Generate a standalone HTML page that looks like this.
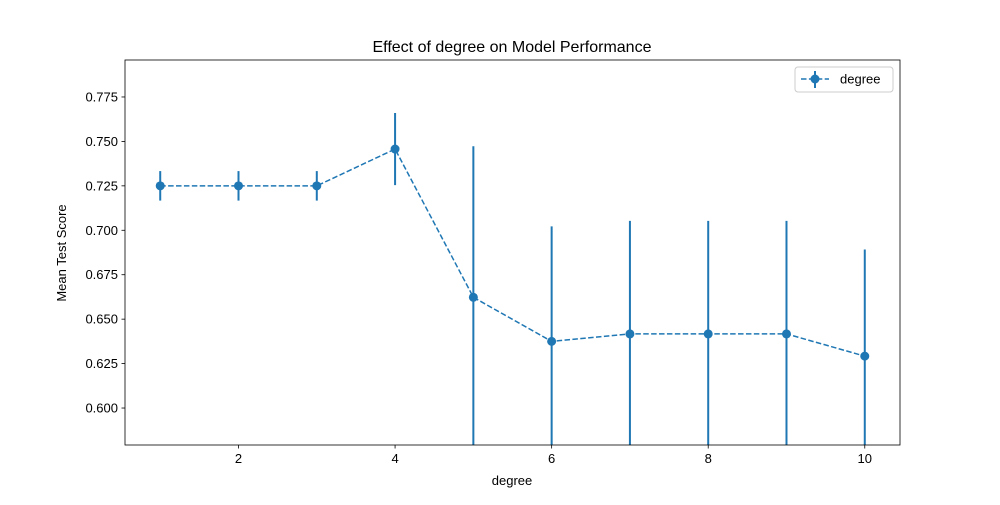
<!DOCTYPE html>
<html><head><meta charset="utf-8"><style>
body{margin:0;background:#fff}
svg{font-family:"Liberation Sans","DejaVu Sans",sans-serif}
</style></head><body>
<svg id="chart" width="1000" height="500">
<rect width="1000" height="500" fill="#fff"/>
<g id="plot"></g>
</svg>
<script>
const degrees=[1,2,3,4,5,6,7,8,9,10];
const scores=[0.725,0.725,0.725,0.7457,0.6623,0.6375,0.6417,0.6417,0.6417,0.6292];
const errors=[0.0083,0.0083,0.0083,0.0203,0.085,0.0647,0.0636,0.0636,0.0636,0.060];
const xTicks=[2,4,6,8,10];
const yTicks=[0.600,0.625,0.650,0.675,0.700,0.725,0.750,0.775];
const L=125,R=900,T=60,B=445,x0=0.55,x1=10.45,y0=0.5792,y1=0.7958;
const sx=v=>L+(v-x0)/(x1-x0)*(R-L);
const sy=v=>B-(v-y0)/(y1-y0)*(B-T);
const NS='http://www.w3.org/2000/svg';
const g=document.getElementById('plot');
function mk(t,a,p){const e=document.createElementNS(NS,t);for(const k in a)e.setAttribute(k,a[k]);(p||g).appendChild(e);return e;}
const clip=mk('clipPath',{id:'c'});mk('rect',{x:L,y:T,width:R-L,height:B-T},clip);
const data=mk('g',{'clip-path':'url(#c)'});


degrees.forEach((d,i)=>{const e=mk('line',{x1:sx(d),x2:sx(d),y1:sy(scores[i]-errors[i]),y2:sy(scores[i]+errors[i]),stroke:'#1f77b4','stroke-width':2},data);

});
const pl=mk('polyline',{points:degrees.map((d,i)=>sx(d)+','+sy(scores[i])).join(' '),fill:'none',stroke:'#1f77b4','stroke-width':1.5,'stroke-dasharray':'5.5,2.4'},data);


degrees.forEach((d,i)=>{const e=mk('circle',{cx:sx(d),cy:sy(scores[i]),r:4.5,fill:'#1f77b4'},data);

});
const fr=mk('rect',{x:L,y:T,width:R-L,height:B-T,fill:'none',stroke:'#000','stroke-width':0.8});


xTicks.forEach(v=>{mk('line',{x1:sx(v),x2:sx(v),y1:B,y2:B+3.5,stroke:'#000','stroke-width':0.8});
const t=mk('text',{x:sx(v),y:B+18,'font-size':13,'text-anchor':'middle'});t.textContent=v;

});
yTicks.forEach(v=>{mk('line',{x1:L-3.5,x2:L,y1:sy(v),y2:sy(v),stroke:'#000','stroke-width':0.8});
const t=mk('text',{x:L-7,y:sy(v)+4.5,'font-size':13,'text-anchor':'end'});t.textContent=v.toFixed(3);

});
let t=mk('text',{x:512,y:52,'font-size':16,'text-anchor':'middle'});t.textContent='Effect of degree on Model Performance';

t=mk('text',{x:512,y:485,'font-size':13,'text-anchor':'middle'});t.textContent='degree';

t=mk('text',{x:0,y:0,'font-size':13,'text-anchor':'middle',transform:'translate(66,253) rotate(-90)'});t.textContent='Mean Test Score';

const lg=mk('g',{});


mk('rect',{x:795,y:67,width:98,height:25,rx:3,fill:'#fff',stroke:'#ccc','stroke-width':1},lg);
mk('line',{x1:801,x2:829,y1:79,y2:79,stroke:'#1f77b4','stroke-width':1.5,'stroke-dasharray':'5.5,2.4'},lg);
mk('line',{x1:815,x2:815,y1:71,y2:88,stroke:'#1f77b4','stroke-width':2},lg);
mk('circle',{cx:815,cy:79,r:4.5,fill:'#1f77b4'},lg);
t=mk('text',{x:840,y:83.5,'font-size':13},lg);t.textContent='degree';

</script>
</body></html>
